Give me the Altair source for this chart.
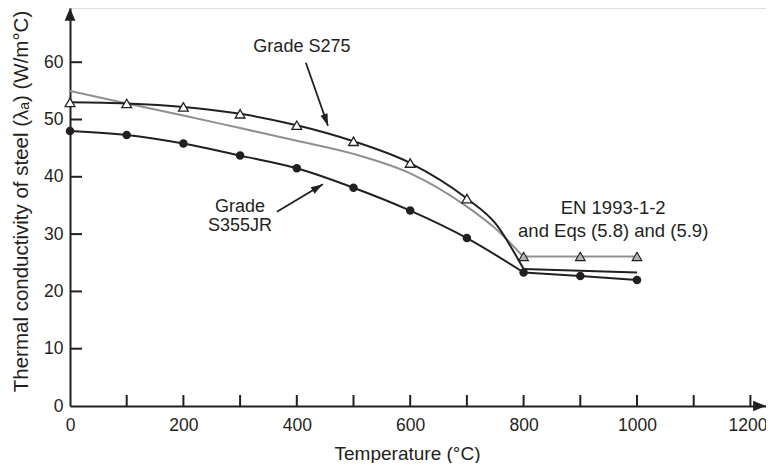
import math
import altair as alt
import pandas as pd

# ---------------- data ----------------
temps = [0, 100, 200, 300, 400, 500, 600, 700, 800, 900, 1000]
s275_marker_values = [53.0, 52.8, 52.2, 51.0, 49.0, 46.2, 42.4, 36.2]   # 0..700
s275_curve_temps = [0, 100, 200, 300, 400, 500, 600, 700, 750, 800]
s275_curve_values = [53.0, 52.8, 52.2, 51.0, 49.0, 46.2, 42.4, 36.2, 31.9, 23.9]
s275_tail_temps = [800, 900, 1000]
s275_tail_values = [23.9, 23.6, 23.3]
s355_values = [48.0, 47.3, 45.8, 43.7, 41.5, 38.1, 34.1, 29.3, 23.3, 22.7, 22.0]
en_curve_temps = [0, 100, 200, 300, 400, 500, 600, 700, 750, 800]
en_curve_values = [55.0, 52.8, 50.7, 48.5, 46.3, 44.0, 40.6, 34.8, 31.0, 26.0]
en_flat_temps = [800, 900, 1000]
en_flat_values = [26.1, 26.1, 26.1]

x_label_values = [0, 200, 400, 600, 800, 1000, 1200]
x_tick_values = [100, 200, 300, 400, 500, 600, 700, 800, 900, 1000, 1100, 1200]
y_label_values = [0, 10, 20, 30, 40, 50, 60]
y_tick_values = [10, 20, 30, 40, 50, 60]

# annotation texts and anchor points (data units, anchor = first line)
ann1_text = ["Grade S275", "Grade\nS355JR"]
ann1_T = [409, 300]
ann1_v = [62.65, 34.7]
ann2_text = ["EN 1993-1-2\nand Eqs (5.8) and (5.9)"]
ann2_T = [958]
ann2_v = [34.55]
arrow_T0 = [416, 365]
arrow_v0 = [59.9, 33.9]
arrow_T1 = [455, 446]
arrow_v1 = [48.9, 38.7]

# ---------------- layout ----------------
W, H = 696, 398
PX_X = 0.567           # pixels per degree
XMAX = W / PX_X
YMAX = 69.46
PX_Y = H / YMAX
INK = "#231f20"
GREY = "#8f8f8f"
FONT = "Liberation Sans"

xs = alt.Scale(domain=[0, XMAX], nice=False, zero=True)
ys = alt.Scale(domain=[0, YMAX], nice=False, zero=True)

x_axis = alt.Axis(values=x_label_values, format="d", grid=False, ticks=False, tickSize=0,
                  domain=True, domainColor=INK, domainWidth=2,
                  labelFontSize=17.5, labelColor=INK, labelFont=FONT, labelPadding=10,
                  labelFlush=False, labelOverlap=False,
                  labelOffset=alt.ConditionalAxisNumber(
                      condition={"test": "datum.value == 1200", "value": -3}, value=0),
                  title="Temperature (°C)", titleFont=FONT, titleFontSize=19,
                  titleFontWeight="normal", titleColor=INK,
                  titleX=337, titleY=53, titleBaseline="alphabetic")
y_axis = alt.Axis(values=y_label_values, format="d", grid=False, ticks=False, tickSize=0,
                  domain=True, domainColor=INK, domainWidth=2,
                  labelFontSize=17.5, labelColor=INK, labelFont=FONT, labelPadding=7,
                  labelFlush=False, labelOverlap=False,
                  title="Thermal conductivity of steel (λₐ) (W/m°C)", titleFont=FONT,
                  titleFontSize=20.5, titleFontWeight="normal", titleColor=INK,
                  titleX=-43, titleY=193, titleBaseline="alphabetic", titleAngle=270)


def X(f="T"):
    return alt.X(f"{f}:Q", scale=xs, axis=x_axis)


def Y(f="v"):
    return alt.Y(f"{f}:Q", scale=ys, axis=y_axis)


df_s275m = pd.DataFrame({"T": temps[:8], "v": s275_marker_values})
df_s275c = pd.DataFrame({"T": s275_curve_temps, "v": s275_curve_values})
df_s275t = pd.DataFrame({"T": s275_tail_temps, "v": s275_tail_values})
df_s355 = pd.DataFrame({"T": temps, "v": s355_values})
df_en = pd.DataFrame({"T": en_curve_temps, "v": en_curve_values})
df_enf = pd.DataFrame({"T": en_flat_temps, "v": en_flat_values})

layers = []

# EN 1993-1-2 curve (grey)
layers.append(alt.Chart(df_en).mark_line(color=GREY, strokeWidth=2, interpolate="monotone")
              .encode(x=X(), y=Y()))
layers.append(alt.Chart(df_enf).mark_line(color=GREY, strokeWidth=2)
              .encode(x=X(), y=Y()))

# S275 curve (to 800 smooth, then straight tail)
layers.append(alt.Chart(df_s275c).mark_line(color=INK, strokeWidth=2, interpolate="monotone")
              .encode(x=X(), y=Y()))
layers.append(alt.Chart(df_s275t).mark_line(color=INK, strokeWidth=2)
              .encode(x=X(), y=Y()))

# S355JR curve
layers.append(alt.Chart(df_s355[df_s355["T"] <= 800]).mark_line(color=INK, strokeWidth=2,
                                                                interpolate="monotone")
              .encode(x=X(), y=Y()))
layers.append(alt.Chart(df_s355[df_s355["T"] >= 800]).mark_line(color=INK, strokeWidth=2)
              .encode(x=X(), y=Y()))

# markers
layers.append(alt.Chart(df_enf).mark_point(shape="triangle-up", filled=True, fill="#b5b5b5",
                                           stroke=INK, strokeWidth=1.1, size=95, opacity=1)
              .encode(x=X(), y=Y()))
layers.append(alt.Chart(df_s275m).mark_point(
    shape="triangle-up", filled=True, fill="white", stroke=INK, strokeWidth=1.3, size=95,
    opacity=1).encode(x=X(), y=Y()))
layers.append(alt.Chart(df_s355).mark_point(shape="circle", filled=True, color=INK, size=72,
                                            opacity=1)
              .encode(x=X(), y=Y()))

# inward axis ticks
layers.append(alt.Chart(pd.DataFrame({"T": x_tick_values})).mark_rule(color=INK, strokeWidth=2)
              .encode(x=X(), y=alt.value(H), y2=alt.value(H - 11)))
layers.append(alt.Chart(pd.DataFrame({"v": y_tick_values})).mark_rule(color=INK, strokeWidth=2)
              .encode(y=Y(), x=alt.value(0), x2=alt.value(12)))

# axis arrowheads (tip at origin of the path)
AXIS_HEAD = "M0,0L1,2.4L-1,2.4Z"
axis_heads = pd.DataFrame({"T": [XMAX, 0], "v": [0, YMAX], "a": [90, 0]})
layers.append(alt.Chart(axis_heads).mark_point(shape=AXIS_HEAD, filled=True, color=INK,
                                               size=115, opacity=1)
              .encode(x=X(), y=Y(), angle=alt.Angle("a:Q", scale=None)))

# annotation texts
layers.append(alt.Chart(pd.DataFrame({"T": ann1_T, "v": ann1_v, "t": ann1_text}))
              .mark_text(font=FONT, fontSize=18, color=INK, align="center",
                         baseline="middle", lineBreak="\n", lineHeight=19)
              .encode(x=X(), y=Y(), text="t:N"))
layers.append(alt.Chart(pd.DataFrame({"T": ann2_T, "v": ann2_v, "t": ann2_text}))
              .mark_text(font=FONT, fontSize=18.5, color=INK, align="center",
                         baseline="middle", lineBreak="\n", lineHeight=23)
              .encode(x=X(), y=Y(), text="t:N"))

# annotation arrows
angles = []
for t0, v0, t1, v1 in zip(arrow_T0, arrow_v0, arrow_T1, arrow_v1):
    dx = (t1 - t0) * PX_X
    dy = -(v1 - v0) * PX_Y
    angles.append((math.degrees(math.atan2(dx, -dy)) + 360) % 360)
df_arr = pd.DataFrame({"T": arrow_T0, "v": arrow_v0, "T2": arrow_T1, "v2": arrow_v1})
layers.append(alt.Chart(df_arr).mark_rule(color=INK, strokeWidth=1.8)
              .encode(x=X(), y=Y(), x2="T2:Q", y2="v2:Q"))
ARROW_HEAD = "M0,0L0.75,2.4L-0.75,2.4Z"
df_heads = pd.DataFrame({"T": arrow_T1, "v": arrow_v1, "a": angles})
layers.append(alt.Chart(df_heads).mark_point(shape=ARROW_HEAD, filled=True, color=INK,
                                             size=100, opacity=1)
              .encode(x=X(), y=Y(), angle=alt.Angle("a:Q", scale=None)))

chart = alt.layer(*layers).properties(
    width=W, height=H,
    autosize=alt.AutoSizeParams(type="none"),
    padding={"left": 62, "top": 0, "right": 0, "bottom": 57},
).configure_view(stroke=None).configure(background="white")

chart.save("out.html", embed_options={"renderer": "svg", "actions": False})
